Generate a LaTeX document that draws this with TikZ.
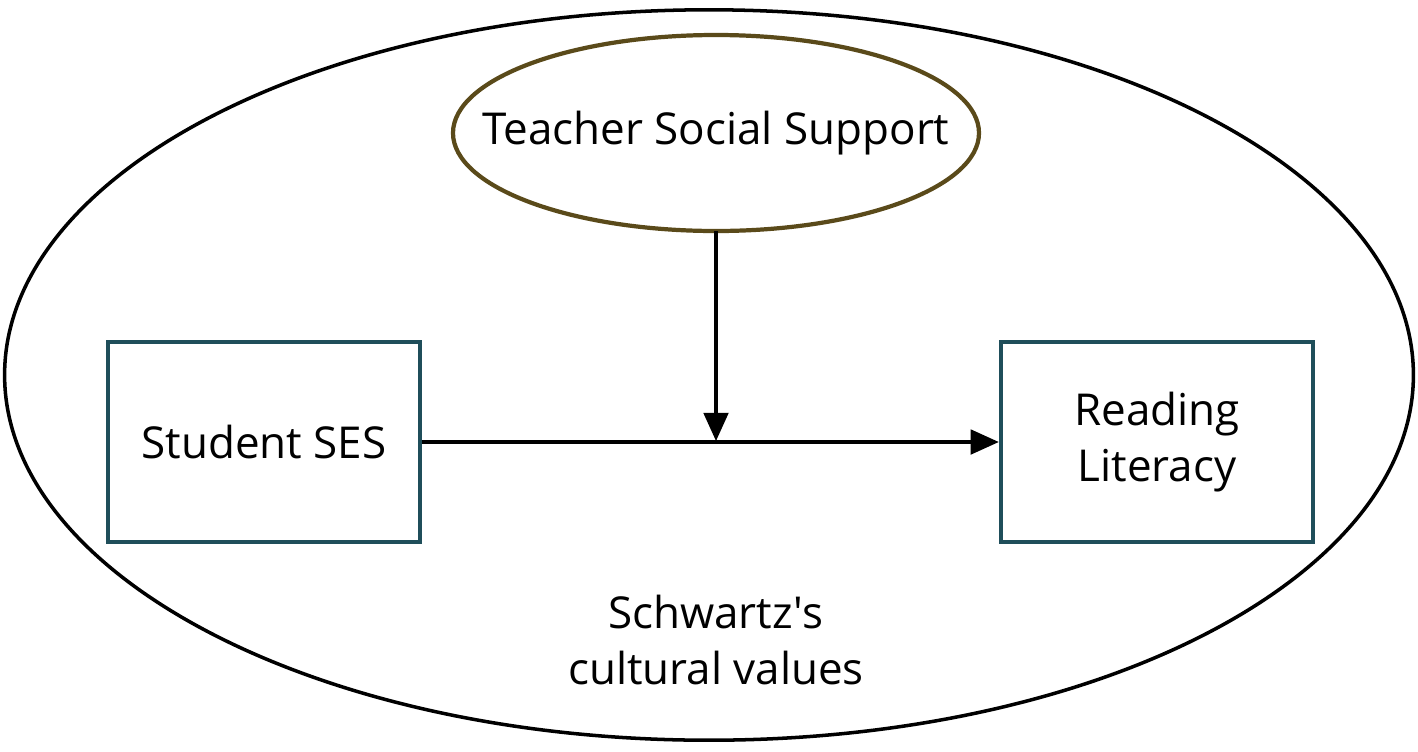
\documentclass[tikz,border=0pt]{standalone}
\usepackage{fontspec}
\setmainfont{Open Sans}
\usetikzlibrary{shapes.geometric,arrows.meta}
\definecolor{boxc}{HTML}{1F4E5A}
\definecolor{brownc}{HTML}{5A4A1A}
\begin{document}
\begin{tikzpicture}[x=0.01cm,y=-0.01cm,
  txt/.style={font=\fontsize{12.5}{16}\selectfont,align=center},
  boxn/.style={draw=boxc,line width=1.2pt,minimum width=3.12cm,minimum height=2cm,txt},
  arr/.style={-{Triangle[length=8pt,width=7pt]},line width=0.9pt}]
\useasboundingbox (0,0) rectangle (1418,751);
\node[draw,ellipse,line width=1pt,minimum width=14.08cm,minimum height=7.3cm] (outer) at (709,375) {};
\draw[brownc,line width=1.2pt] (716,133) ellipse (263 and 98);
\node[txt] (tss) at (716,133) {Teacher Social Support};
\coordinate (tssb) at (716,231);
\node[boxn] (ses) at (264,442) {Student SES};
\node[boxn] (rl) at (1157,442) {Reading\\Literacy};
\coordinate (mid) at (716,441);
\draw[arr] (ses.east) -- (rl.west);
\draw[arr] (tssb) -- (mid);
\node[txt] (sv) at (716,640) {Schwartz\textquotesingle s\\cultural values};
\end{tikzpicture}
\end{document}
